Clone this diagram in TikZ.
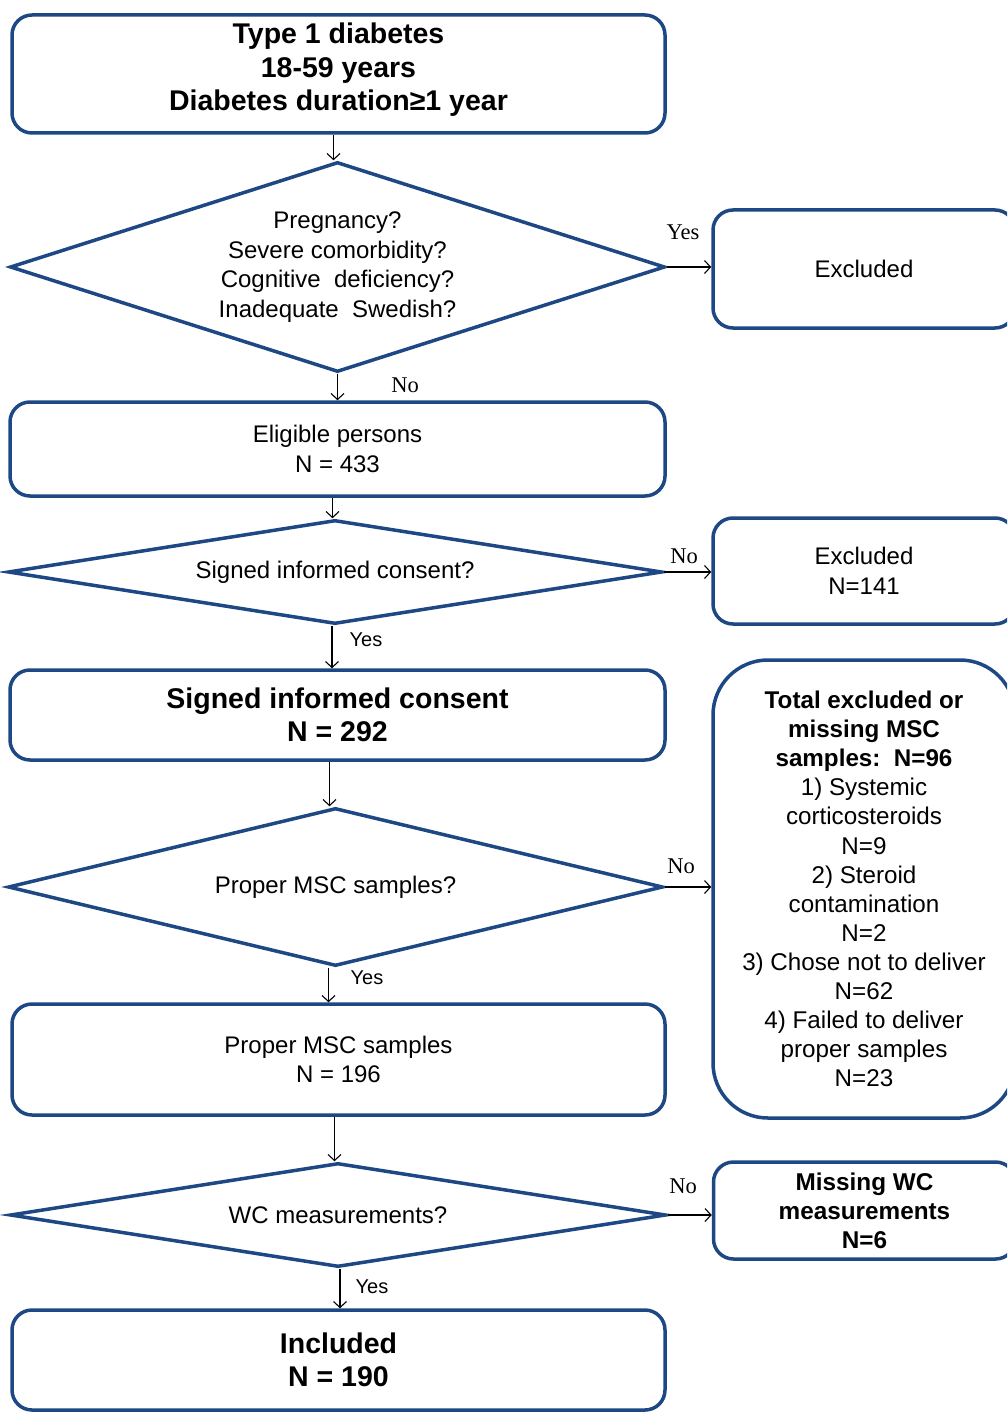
\documentclass[tikz,border=0pt]{standalone}
\usepackage{fontspec}
\setmainfont{Liberation Sans}
\newfontfamily\serifcap{Liberation Serif}
\usetikzlibrary{shapes.geometric,arrows.meta}
\definecolor{frameblue}{RGB}{30,72,132}
\tikzset{
  boxbase/.style={draw=frameblue, line width=3.5pt, rounded corners=20pt, align=center, inner sep=0pt, fill=white},
  diabase/.style={draw=frameblue, line width=3.5pt, diamond, align=center, inner sep=0pt, fill=white},
  arr/.style={draw=black, line width=1.1pt, -{Straight Barb[length=6pt,width=13pt]}},
  regtxt/.style={font=\fontsize{24}{29.5}\selectfont},
  boldtxt/.style={font=\fontsize{28.5}{33.5}\selectfont\bfseries},
  smallbold/.style={font=\fontsize{24.3}{29}\selectfont\bfseries},
  serlab/.style={font=\serifcap\fontsize{22.5}{24}\selectfont, inner sep=0pt},
  sanslab/.style={font=\fontsize{20}{22}\selectfont, inner sep=0pt}
}
\begin{document}
\begin{tikzpicture}[x=1pt,y=-1pt]
\useasboundingbox (0,0) rectangle (1007,1412);
\clip (0,0) rectangle (1007,1412);
% main column
\node[boxbase, minimum width=653pt, minimum height=118pt] (b1) at (338.5,74) {};
\node[align=center, inner sep=0pt, boldtxt] (b1txt) at (338.5,70) {Type 1 diabetes\\18-59 years\\Diabetes duration≥1 year};
\node[diabase, regtxt, aspect=3.3, minimum width=655pt, minimum height=210pt] (d1) at (337.5,267) {Pregnancy?\\Severe comorbidity?\\Cognitive\ \ deficiency?\\Inadequate\ \ Swedish?};
\node[boxbase, regtxt, minimum width=655pt, minimum height=94pt] (elig) at (337.5,449) {Eligible persons\\N = 433};
\node[diabase, regtxt, aspect=6, minimum width=654pt, minimum height=104pt] (d2) at (335,572) {Signed informed consent?};
\node[boxbase, boldtxt, minimum width=655pt, minimum height=90pt] (signed) at (337.5,715) {Signed informed consent\\N = 292};
\node[diabase, regtxt, aspect=4, minimum width=655pt, minimum height=158pt] (d3) at (335.5,887) {Proper MSC samples?};
\node[boxbase, regtxt, minimum width=653pt, minimum height=111pt] (proper) at (338.5,1059.5) {Proper MSC samples\\N = 196};
\node[diabase, regtxt, aspect=6, minimum width=656pt, minimum height=104pt] (d4) at (338,1215) {WC measurements?};
\node[boxbase, boldtxt, minimum width=653pt, minimum height=100pt] (incl) at (338.5,1360) {Included\\N = 190};
% right column
\node[boxbase, regtxt, minimum width=302pt, minimum height=118pt] (ex1) at (864,269) {Excluded};
\node[boxbase, regtxt, minimum width=302pt, minimum height=106pt] (ex2) at (864,571) {Excluded\\N=141};
\node[boxbase, rounded corners=55pt, minimum width=302pt, minimum height=458pt] (tot) at (864,889) {};
\node[align=center, inner sep=0pt, font=\fontsize{24.2}{29.1}\selectfont] (tottxt) at (tot.center) {\textbf{Total excluded or}\\\textbf{missing MSC}\\\textbf{samples:\ \ N=96}\\1) Systemic\\corticosteroids\\N=9\\2) Steroid\\contamination\\N=2\\3) Chose not to deliver\\N=62\\4) Failed to deliver\\proper samples\\N=23};
\node[boxbase, smallbold, minimum width=302pt, minimum height=97pt] (miss) at (864.5,1210.5) {Missing WC\\measurements\\N=6};
% vertical connectors
\draw[arr] ([xshift=-5pt]b1.south) -- ([xshift=-5pt]b1.south |- d1.north);
\draw[arr] (d1.south) -- (d1.south |- elig.north);
\draw[arr] ([xshift=-5pt]elig.south) -- ([xshift=-5pt]elig.south |- d2.north);
\draw[arr] ([xshift=-3pt]d2.south) -- ([xshift=-3pt]d2.south |- signed.north);
\draw[arr] ([xshift=-8pt]signed.south) -- ([xshift=-8pt]signed.south |- d3.north);
\draw[arr] ([xshift=-7pt]d3.south) -- ([xshift=-7pt]d3.south |- proper.north);
\draw[arr] ([xshift=-4pt]proper.south) -- ([xshift=-4pt]proper.south |- d4.north);
\draw[arr] ([xshift=2pt]d4.south) -- ([xshift=2pt]d4.south |- incl.north);
% horizontal connectors
\draw[arr] (d1.east) -- (d1.east -| ex1.west);
\draw[arr] (d2.east) -- (d2.east -| ex2.west);
\draw[arr] (d3.east) -- (d3.east -| tot.west);
\draw[arr] (d4.east) -- (d4.east -| miss.west);
% labels
\node[serlab] (lyes1) at (683,232) {Yes};
\node[serlab] (lno1) at (405,385) {No};
\node[serlab] (lno2) at (684,556) {No};
\node[sanslab] (lyes2) at (366,640) {Yes};
\node[serlab] (lno3) at (681,866) {No};
\node[sanslab] (lyes3) at (367,978) {Yes};
\node[serlab] (lno4) at (683,1186) {No};
\node[sanslab] (lyes4) at (372,1287) {Yes};
\end{tikzpicture}
\end{document}
